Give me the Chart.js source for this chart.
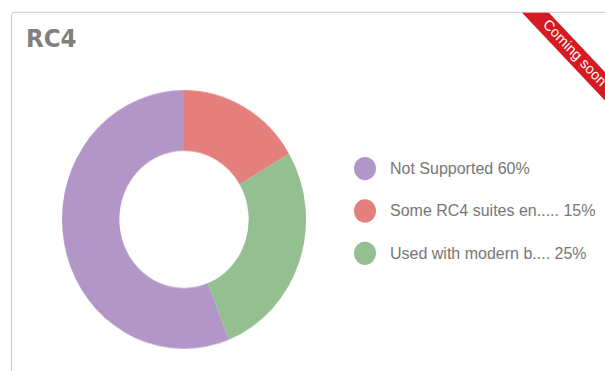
<!DOCTYPE html>
<html>
<head>
<meta charset="utf-8">
<script src="https://cdn.jsdelivr.net/npm/chart.js@4.4.0/dist/chart.umd.min.js"></script>
<style>
  html, body { margin: 0; padding: 0; width: 605px; height: 371px; overflow: hidden; background: #fff; }
  /* the reference is a bit stretched vertically, so the whole stage is too */
  #stage { position: absolute; left: 0; top: 0; width: 605px; height: 350px; transform: scaleY(1.06); transform-origin: 0 0; }
  .card { position: absolute; left: 11px; top: 11px; width: 700px; height: 500px; border: 1px solid #c9c9c9; border-radius: 4px; overflow: hidden; background: #fff; }
  .title { position: absolute; left: 14px; top: 11px; font: bold 23px "DejaVu Sans", sans-serif; color: #808080; line-height: 26px; }
  .ribbon { position: absolute; left: 452px; top: 28.5px; width: 220px; height: 19px; line-height: 19px; background: #d51a21; color: #fff; text-align: center; font: 14px "Liberation Sans", Arial, sans-serif; transform: rotate(45deg); }
  #donut { position: absolute; left: 61.5px; top: 84.6px; }
  #legend { position: absolute; left: 354px; top: 0; }
  .row { position: absolute; left: 0; display: flex; align-items: center; height: 22px; white-space: nowrap; }
  .dot { width: 22px; height: 22px; border-radius: 50%; margin-right: 14px; }
  .txt { font: 16px "Liberation Sans", Arial, sans-serif; color: #777; }
</style>
</head>
<body>
<div id="stage">
  <div class="card">
    <div class="title">RC4</div>
    <div class="ribbon">Coming soon</div>
  </div>
  <canvas id="donut" width="244" height="244"></canvas>
  <div id="legend"></div>
</div>
<script>
// slices in drawing order (clockwise from the top)
const categories = ['Some RC4 suites en.....', 'Used with modern b....', 'Not Supported']
const sliceValues = [16.5, 27.5, 56]
const legendPercents = ['15%', '25%', '60%']
const sliceColors = ['#e47f7c', '#94bf91', '#b296c8']
// legend lists the slices in this order
const legendOrder = [2, 0, 1]
const legendRowCenters = [159, 198.5, 238.5]

new Chart(document.getElementById('donut'), {
  type: 'doughnut',
  data: {
    labels: categories,
    datasets: [{
      data: sliceValues,
      backgroundColor: sliceColors,
      borderWidth: 0
    }]
  },
  options: {
    responsive: false,
    animation: false,
    cutout: '53%',
    layout: { padding: 0 },
    plugins: {
      legend: { display: false },
      tooltip: { enabled: false }
    }
  }
})

const legend = document.getElementById('legend')
legendOrder.forEach((idx, i) => {
  const row = document.createElement('div')
  row.className = 'row'
  row.style.top = (legendRowCenters[i] - 11) + 'px'
  const dot = document.createElement('span')
  dot.className = 'dot'
  dot.style.background = sliceColors[idx]
  const txt = document.createElement('span')
  txt.className = 'txt'
  txt.textContent = `${categories[idx]} ${legendPercents[idx]}`
  row.appendChild(dot)
  row.appendChild(txt)
  legend.appendChild(row)
})
</script>
</body>
</html>
